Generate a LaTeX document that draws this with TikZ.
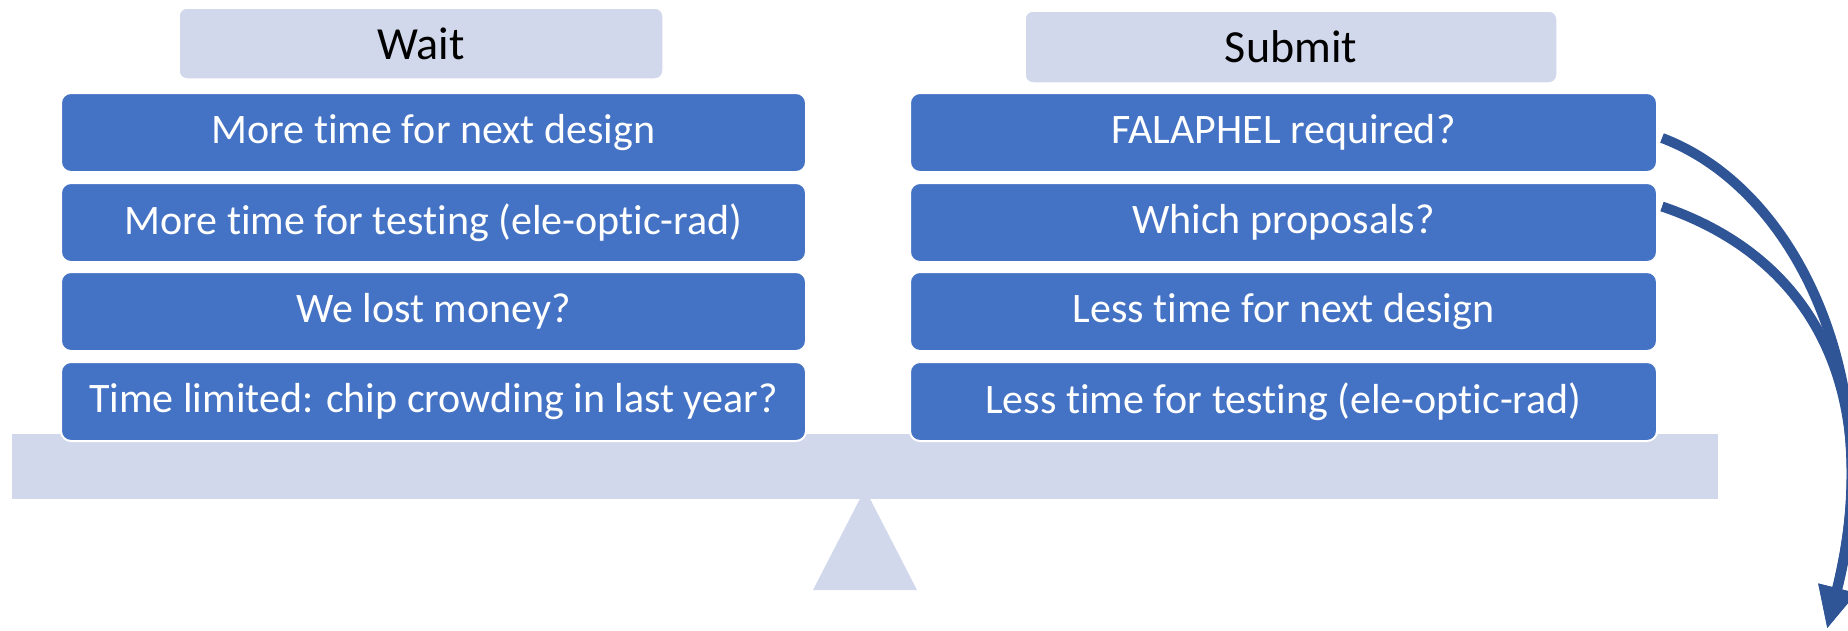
\documentclass[tikz,border=0pt]{standalone}
\usepackage{fontspec}
\setmainfont{Carlito}[Ligatures=NoCommon]
\usetikzlibrary{arrows.meta}
\definecolor{boxblue}{HTML}{4472C4}
\definecolor{lightbar}{HTML}{D2D8EB}
\definecolor{arrowblue}{HTML}{2F5597}
\begin{document}
\begin{tikzpicture}[x=1pt,y=-1pt,
  item/.style={draw=white, line width=2pt, fill=boxblue, rounded corners=10pt, text=white,
    font=\fontsize{42}{50}\selectfont, minimum height=79pt, inner sep=0pt},
  leftitem/.style={item, minimum width=745pt},
  rightitem/.style={item, minimum width=747pt},
  head/.style={draw=white, line width=1.5pt, fill=lightbar, rounded corners=8pt, text=black,
    font=\fontsize{46}{55}\selectfont, inner sep=0pt},
  beamstyle/.style={fill=lightbar, inner sep=0pt, minimum width=1706pt, minimum height=65pt},
  flow/.style={draw=arrowblue, line width=10pt, -{Triangle[length=42pt,width=36pt]}}]
\useasboundingbox (0,0) rectangle (1848,630);
% beam and fulcrum
\node[beamstyle] (beam) at (865,466.5) {};
\fill[lightbar] (813,590) -- (865,489) -- (917,590) -- cycle;
% headers
\node[head, minimum width=484pt, minimum height=71pt] (wait) at (421,43.5) {Wait};
\node[head, minimum width=532pt, minimum height=72pt] (submit) at (1291,47) {Submit};
% left column
\node[leftitem] (l1) at (433.5,132.5) {More time for next design};
\node[leftitem] (l2) at (433.5,222.5) {More time for testing (ele-optic-rad)};
\node[leftitem] (l3) at (433.5,311.5) {We lost money?};
\node[leftitem] (l4) at (433.5,401.5) {Time limited: chip crowding in last year?};
% right column
\node[rightitem] (r1) at (1283.5,132.5) {FALAPHEL required?};
\node[rightitem] (r2) at (1283.5,222.5) {Which proposals?};
\node[rightitem] (r3) at (1283.5,311.5) {Less time for next design};
\node[rightitem] (r4) at (1283.5,401.5) {Less time for testing (ele-optic-rad)};
% arrows
\coordinate (tip) at (1827,629);
\draw[flow] ([xshift=4pt,yshift=-5.5pt]r1.east) .. controls (1800,190) and (1888,390) .. (tip);
\draw[flow] ([xshift=4pt,yshift=16pt]r2.east) .. controls (1820,260) and (1884,400) .. (tip);
\end{tikzpicture}
\end{document}
